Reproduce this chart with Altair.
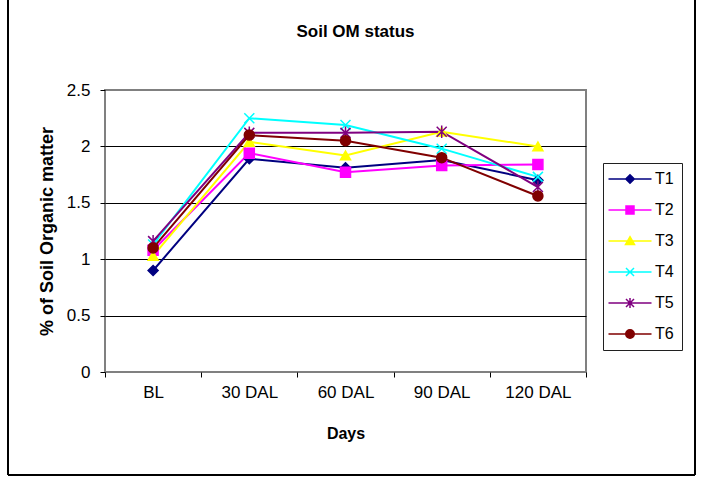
import altair as alt
import pandas as pd

days = ["BL", "30 DAL", "60 DAL", "90 DAL", "120 DAL"]
series_names = ["T1", "T2", "T3", "T4", "T5", "T6"]
t1 = [0.90, 1.89, 1.81, 1.88, 1.70]
t2 = [1.08, 1.94, 1.77, 1.83, 1.84]
t3 = [1.03, 2.04, 1.92, 2.13, 2.00]
t4 = [1.13, 2.25, 2.19, 1.98, 1.73]
t5 = [1.16, 2.12, 2.12, 2.13, 1.64]
t6 = [1.10, 2.10, 2.05, 1.90, 1.56]
y_ticks = [0, 0.5, 1, 1.5, 2, 2.5]

colors = ["#000080", "#FF00FF", "#FFFF00", "#00FFFF", "#800080", "#800000"]
plot_shapes = [
    "diamond",
    "square",
    "triangle-up",
    "M-1,-1L1,1M-1,1L1,-1",
    "M-1,-1L1,1M-1,1L1,-1M0,-1.25L0,1.25",
    "circle",
]
legend_line = "M-4.3,0L4.3,0"
legend_markers = [
    "M0,-0.85L0.85,0L0,0.85L-0.85,0Z",
    "M-0.8,-0.8L0.8,-0.8L0.8,0.8L-0.8,0.8Z",
    "M0,-0.85L0.9,0.7L-0.9,0.7Z",
    "M-0.8,-0.8L0.8,0.8M-0.8,0.8L0.8,-0.8",
    "M-0.8,-0.8L0.8,0.8M-0.8,0.8L0.8,-0.8M0,-1L0,1",
    "M-0.85,0A0.85,0.85,0,1,1,0.85,0A0.85,0.85,0,1,1,-0.85,0Z",
]
legend_shapes = [legend_line + m for m in legend_markers]

values = [t1, t2, t3, t4, t5, t6]
rows = []
for name, vals in zip(series_names, values):
    for d, v in zip(days, vals):
        rows.append({"day": d, "series": name, "value": v})
df = pd.DataFrame(rows)

FONT = "Liberation Sans"


def cscale():
    return alt.Scale(domain=series_names, range=colors)


x_enc = alt.X(
    "day:N",
    sort=days,
    scale=alt.Scale(type="band", paddingInner=0, paddingOuter=0),
    axis=alt.Axis(
        title="Days",
        tickBand="extent",
        labelAngle=0,
        grid=False,
        domain=False,
        tickSize=5,
        tickColor="black",
        labelPadding=7,
        labelFontSize=17,
        titleFontSize=16,
        titlePadding=25,
    ),
)
y_enc = alt.Y(
    "value:Q",
    scale=alt.Scale(domain=[0, 2.5], nice=False, zero=True),
    axis=alt.Axis(
        title="% of Soil Organic matter",
        values=y_ticks,
        format="~g",
        grid=True,
        gridColor={
            "condition": {"test": "datum.value === 0 || datum.value === 2.5", "value": "#808080"},
            "value": "black",
        },
        gridWidth=1,
        domain=False,
        tickSize=5,
        tickColor="black",
        labelPadding=10,
        labelFontSize=17,
        titleFontSize=18,
        titlePadding=10,
    ),
)

frame = alt.Chart(df).mark_rect(filled=False, stroke="black", strokeWidth=1).encode(
    x=alt.value(-97), x2=alt.value(590), y=alt.value(-95), y2=alt.value(385)
)

lines = alt.Chart(df).mark_line(strokeWidth=2).encode(
    x=x_enc,
    y=y_enc,
    color=alt.Color("series:N", scale=cscale(), legend=None),
    detail="series:N",
)

points = alt.Chart(df).mark_point(filled=True, size=100, strokeWidth=1.5, opacity=1).encode(
    x=x_enc,
    y=y_enc,
    color=alt.Color("series:N", scale=cscale(), legend=None),
    stroke=alt.Stroke("series:N", scale=cscale(), legend=None),
    shape=alt.Shape("series:N", scale=alt.Scale(domain=series_names, range=plot_shapes), legend=None),
)

leg = dict(
    title=None,
    orient="none",
    legendX=498,
    legendY=73,
    padding=8,
    strokeColor="#202020",
    fillColor="white",
    labelFontSize=16,
    labelFont=FONT,
    labelColor="black",
    rowPadding=15,
    symbolOffset=11,
    labelOffset=17,
)

legend_layer = (
    alt.Chart(df)
    .transform_filter("datum.value < -100")
    .mark_point(filled=True, size=100, strokeWidth=2, opacity=1)
    .encode(
        color=alt.Color("series:N", scale=cscale(), legend=alt.Legend(**leg)),
        stroke=alt.Stroke("series:N", scale=cscale(), legend=alt.Legend(**leg)),
        shape=alt.Shape(
            "series:N",
            scale=alt.Scale(domain=series_names, range=legend_shapes),
            legend=alt.Legend(**leg),
        ),
    )
)

chart = (
    alt.layer(frame, lines, points, legend_layer)
    .resolve_scale(color="independent", stroke="independent", shape="independent")
    .properties(
        width=481,
        height=282,
        autosize=alt.AutoSizeParams(type="none"),
        padding={"left": 105, "top": 90, "right": 118, "bottom": 112},
        title=alt.Title(
            "Soil OM status",
            fontSize=17,
            font=FONT,
            fontWeight="bold",
            color="black",
            anchor="middle",
            frame="group",
            dx=10,
            offset=-46,
        ),
    )
    .configure(background="white")
    .configure_view(fill="#C0C0C0", stroke="#808080", strokeWidth=2)
    .configure_axis(
        labelFont=FONT,
        titleFont=FONT,
        labelColor="black",
        titleColor="black",
        titleFontWeight="bold",
    )
)

chart.save("out.html", embed_options={"renderer": "svg", "actions": False})
